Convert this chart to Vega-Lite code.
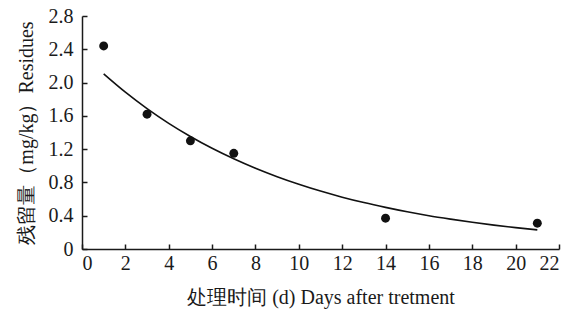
{
  "$schema": "https://vega.github.io/schema/vega-lite/v6.json",
  "width": 477,
  "height": 233,
  "autosize": {"type": "none"},
  "padding": {"left": 82, "top": 16, "right": 28, "bottom": 74},
  "background": "white",
  "config": {"view": {"stroke": null}},
  "datasets": {
    "obs": [
      {"day": 1, "residue": 2.44},
      {"day": 3, "residue": 1.62},
      {"day": 5, "residue": 1.30},
      {"day": 7, "residue": 1.15},
      {"day": 14, "residue": 0.37},
      {"day": 21, "residue": 0.31}
    ],
    "fit": [
      {"day": 1, "residue": 2.104},
      {"day": 2, "residue": 1.884},
      {"day": 3, "residue": 1.687},
      {"day": 4, "residue": 1.510},
      {"day": 5, "residue": 1.352},
      {"day": 6, "residue": 1.210},
      {"day": 7, "residue": 1.084},
      {"day": 8, "residue": 0.970},
      {"day": 9, "residue": 0.869},
      {"day": 10, "residue": 0.778},
      {"day": 11, "residue": 0.696},
      {"day": 12, "residue": 0.623},
      {"day": 13, "residue": 0.558},
      {"day": 14, "residue": 0.500},
      {"day": 15, "residue": 0.447},
      {"day": 16, "residue": 0.400},
      {"day": 17, "residue": 0.359},
      {"day": 18, "residue": 0.321},
      {"day": 19, "residue": 0.287},
      {"day": 20, "residue": 0.257},
      {"day": 21, "residue": 0.230}
    ]
  },
  "encoding": {
    "x": {"field": "day", "type": "quantitative",
          "scale": {"domain": [0, 22], "nice": false},
          "axis": {"values": [0,2,4,6,8,10,12,14,16,18,20,22], "grid": false,
                   "domain": true, "domainColor": "#1a1a1a", "domainWidth": 1.5,
                   "tickColor": "#1a1a1a", "tickWidth": 1.5, "tickSize": -5,
                   "labelOverlap": false, "labelFont": "Liberation Serif", "labelFontSize": 20, "labelColor": "#1a1a1a",
                   "labelPadding": 9,
                   "title": "处理时间 (d)  Days after tretment", "titleFont": "Liberation Serif", "titleFontSize": 20, "titleFontWeight": "normal", "titleColor": "#1a1a1a", "titlePadding": 14}},
    "y": {"field": "residue", "type": "quantitative",
          "scale": {"domain": [0, 2.8], "nice": false},
          "axis": {"values": [0,0.4,0.8,1.2,1.6,2.0,2.4,2.8], "grid": false,
                   "domain": true, "domainColor": "#1a1a1a", "domainWidth": 1.5,
                   "tickColor": "#1a1a1a", "tickWidth": 1.5, "tickSize": -5,
                   "labelOverlap": false, "labelFont": "Liberation Serif", "labelFontSize": 20, "labelColor": "#1a1a1a",
                   "labelExpr": "datum.value == 0 ? '0' : format(datum.value, '.1f')", "labelPadding": 14,
                   "title": "残留量（mg/kg）Residues", "titleFont": "Liberation Serif", "titleFontSize": 20, "titleFontWeight": "normal", "titleColor": "#1a1a1a", "titlePadding": 12}}
  },
  "layer": [
    {
      "data": {"name": "fit"},
      "mark": {"type": "line", "color": "#111", "strokeWidth": 1.6, "interpolate": "monotone"}
    },
    {
      "data": {"name": "obs"},
      "mark": {"type": "point", "filled": true, "color": "#111", "size": 80, "opacity": 1}
    }
  ]
}
